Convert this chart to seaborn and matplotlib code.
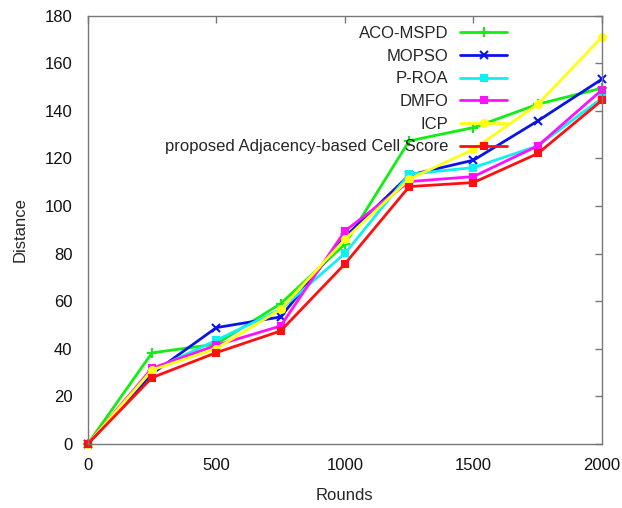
import matplotlib
matplotlib.use("Agg")
import matplotlib.pyplot as plt
import seaborn as sns
import pandas as pd

rounds = [0, 250, 500, 750, 1000, 1250, 1500, 1750, 2000]
aco_mspd = [0, 38.3, 42.0, 59.0, 84.0, 127.4, 133.0, 142.8, 149.6]
mopso = [0, 29.5, 48.9, 53.4, 87.0, 113.0, 119.3, 135.8, 153.4]
p_roa = [0, 31.0, 43.6, 56.6, 80.1, 113.4, 116.2, 125.3, 145.4]
dmfo = [0, 31.8, 41.5, 49.6, 89.5, 110.3, 112.4, 125.3, 148.9]
icp = [0, 31.1, 40.1, 56.6, 86.0, 111.3, 123.9, 142.8, 171.1]
proposed = [0, 27.9, 38.4, 47.5, 75.7, 108.2, 109.9, 122.1, 144.5]

series_names = ["ACO-MSPD", "MOPSO", "P-ROA", "DMFO", "ICP",
                "proposed Adjacency-based Cell Score"]
series_values = [aco_mspd, mopso, p_roa, dmfo, icp, proposed]
colors = ["#11ee11", "#0a14e6", "#11f0f0", "#ff11ff", "#ffff11", "#ff0f0f"]
markers = ["+", "x", "s", "s", "o", "s"]
msizes = [7, 6, 5, 5, 5, 5]

sns.set_style("white")
plt.rcParams["font.family"] = ["Liberation Sans", "DejaVu Sans"]
plt.rcParams["font.size"] = 12

fig = plt.figure(figsize=(6.22, 5.08), dpi=100)
ax = fig.add_axes([0.141, 0.126, 0.827, 0.843])

for name, vals, c, m, ms in zip(series_names, series_values, colors, markers, msizes):
    df = pd.DataFrame({"Rounds": rounds, "Distance": vals})
    sns.lineplot(data=df, x="Rounds", y="Distance", ax=ax, color=c, marker=m,
                 markersize=ms, markeredgewidth=1.5, markeredgecolor=c,
                 linewidth=2.0, label=name, clip_on=False)

ax.set_xlim(0, 2000)
ax.set_ylim(0, 180)
ax.set_xticks([0, 500, 1000, 1500, 2000])
ax.set_yticks(range(0, 181, 20))
ax.tick_params(direction="in", length=5, width=1, color="#777777",
               top=True, right=True, labelsize=12, labelcolor="#111111")
ax.tick_params(axis="x", pad=10)
ax.tick_params(axis="y", pad=11)
for sp in ax.spines.values():
    sp.set_color("#777777")
    sp.set_linewidth(1.0)
ax.set_xlabel("Rounds", fontsize=12, labelpad=11)
ax.set_ylabel("Distance", fontsize=12, labelpad=12)

leg = ax.legend(loc="upper right", bbox_to_anchor=(0.815, 0.976), frameon=False,
                markerfirst=False, handlelength=2.8, handletextpad=0.7,
                labelspacing=0.46, borderpad=0, borderaxespad=0, fontsize=12)

fig.savefig("out.png", dpi=100)
